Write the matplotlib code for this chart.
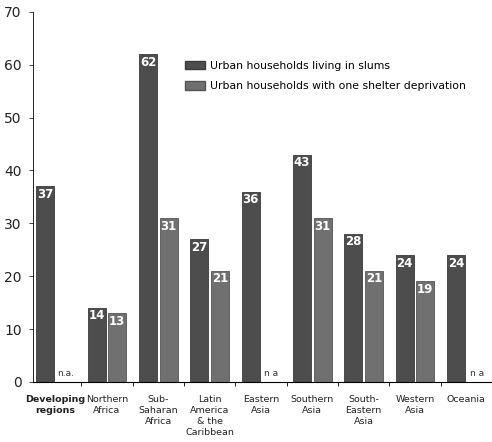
import numpy as np
import matplotlib.pyplot as plt
from matplotlib.patches import Patch

# data
regions = ['Developing\nregions', 'Northern\nAfrica', 'Sub-\nSaharan\nAfrica',
           'Latin\nAmerica\n& the\nCaribbean', 'Eastern\nAsia', 'Southern\nAsia',
           'South-\nEastern\nAsia', 'Western\nAsia', 'Oceania']
slums = [37, 14, 62, 27, 36, 43, 28, 24, 24]
shelter = [None, 13, 31, 21, None, 31, 21, 19, None]
na_labels = ['n.a.', 'n a', 'n a']

c_slum = '#4d4d4d'
c_shel = '#707070'

fig = plt.figure(figsize=(4.92, 4.42), dpi=100)
ax = fig.add_axes([0.067, 0.136, 0.933, 0.837])

x = np.arange(len(regions))
w = 0.35
off = 0.2

na_i = 0
for i, (s, h) in enumerate(zip(slums, shelter)):
    ax.bar(x[i] - off, s, w, color=c_slum, edgecolor='#3a3a3a', linewidth=0.6)
    ax.text(x[i] - off, s - 0.3, str(s), ha='center', va='top', color='white',
            fontsize=8.5, fontweight='bold')
    if h is None:
        ax.text(x[i] + off, 0.8, na_labels[na_i], ha='center', va='bottom',
                color='#333333', fontsize=6.5)
        na_i += 1
    else:
        ax.bar(x[i] + off, h, w, color=c_shel, edgecolor='#555555', linewidth=0.6)
        ax.text(x[i] + off, h - 0.3, str(h), ha='center', va='top', color='white',
                fontsize=8.5, fontweight='bold')

ax.set_xlim(-0.44, 8.38)
ax.set_ylim(0, 70)
ax.set_yticks(range(0, 71, 10))
ax.tick_params(axis='y', labelsize=10, length=3, width=0.6, pad=5, colors='#222222')
ax.set_xticks(x + 0.5)
ax.set_xticklabels([])
ax.tick_params(axis='x', length=3, width=0.6, direction='out')
for i, lab in enumerate(regions):
    ax.text(x[i], -2.4, lab, ha='center', va='top', fontsize=6.8, color='#222222',
            fontweight='bold' if i == 0 else 'normal', linespacing=1.3)

for sp in ['top', 'right']:
    ax.spines[sp].set_visible(False)
ax.spines['left'].set_linewidth(0.6)
ax.spines['left'].set_linestyle((0, (4, 1)))
ax.spines['bottom'].set_linewidth(0.8)

handles = [Patch(facecolor=c_slum, edgecolor='#3a3a3a'),
           Patch(facecolor=c_shel, edgecolor='#555555')]
ax.legend(handles, ['Urban households living in slums',
                    'Urban households with one shelter deprivation'],
          loc='upper left', bbox_to_anchor=(0.31, 0.895), frameon=False,
          fontsize=7.8, handlelength=1.8, handleheight=0.8, labelspacing=1.0,
          handletextpad=0.5)

fig.savefig('out.png', dpi=100)
